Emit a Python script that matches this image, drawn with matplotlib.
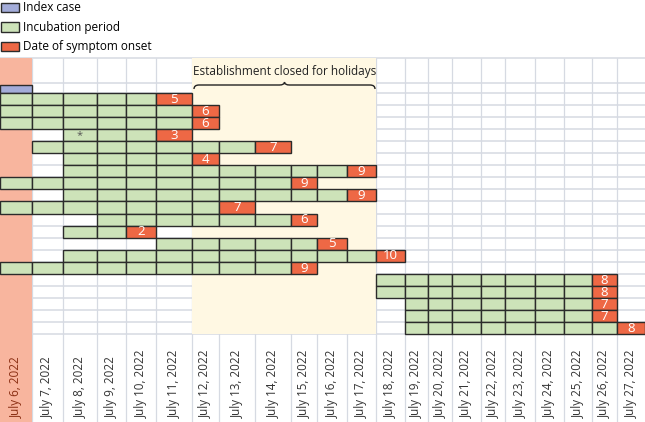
import matplotlib
matplotlib.use("Agg")
import numpy as np
import matplotlib.pyplot as plt
from matplotlib.patches import Patch, PathPatch
from matplotlib.path import Path

plt.rcParams['font.family'] = ['Open Sans', 'DejaVu Sans']

# --- data ---
days = [6, 7, 8, 9, 10, 11, 12, 13, 14, 15, 16, 17, 18, 19, 20, 21, 22, 23, 24, 25, 26, 27]
date_labels = ["July 6, 2022", "July 7, 2022", "July 8, 2022", "July 9, 2022",
               "July 10, 2022", "July 11, 2022", "July 12, 2022", "July 13, 2022",
               "July 14, 2022", "July 15, 2022", "July 16, 2022", "July 17, 2022",
               "July 18, 2022", "July 19, 2022", "July 20, 2022", "July 21, 2022",
               "July 22, 2022", "July 23, 2022", "July 24, 2022", "July 25, 2022",
               "July 26, 2022", "July 27, 2022"]
index_day = 6
start_day = [6, 6, 6, 8, 7, 8, 8, 6, 8, 6, 9, 8, 11, 8, 6, 18, 18, 19, 19, 19]
onset_day = [11, 12, 12, 11, 14, 12, 17, 15, 17, 13, 15, 10, 16, 18, 15, 26, 26, 26, 26, 27]
incubation = [5, 6, 6, 3, 7, 4, 9, 9, 9, 7, 6, 2, 5, 10, 9, 8, 8, 7, 7, 8]
asterisk_case, asterisk_day = 3, 8
closed_first, closed_last = 12, 17

# --- layout (pixel-like units) ---
col_w = [32, 31, 34, 29, 30, 36, 27, 36, 36, 26, 30, 29, 29, 23, 24, 29, 24, 30, 29, 28, 25, 28]
edges = np.concatenate([[0], np.cumsum(col_w)])
W, H = 645, 422
grid_top, index_top, cases_top = 58, 83, 93
row_h = 12.05
grid_bottom = cases_top + row_h * len(start_day)

C_BLUE = "#a3acd9"
C_GREEN = "#cde3b9"
C_RED = "#ee6845"
C_PINK = "#f8b59e"
C_YELLOW = "#fff8e3"
C_GRID = "#d6dae2"
C_EDGE = "#2b2b2b"

fig = plt.figure(figsize=(6.45, 4.22), dpi=100)
ax = fig.add_axes([0, 0, 1, 1])
ax.set_xlim(0, W)
ax.set_ylim(H, 0)
ax.axis("off")

def col(d):
    return days.index(d)

# grid
hl = [grid_top, index_top] + [cases_top + i * row_h for i in range(len(start_day) + 1)]
ax.hlines(hl, 0, W, color=C_GRID, lw=1.1, zorder=0)
ax.vlines(edges[1:-1], grid_top, H, color=C_GRID, lw=0.9, zorder=0)

# background bands
c0 = col(index_day)
ax.bar(edges[c0], H - grid_top, width=col_w[c0], bottom=grid_top, align="edge",
       color=C_PINK, lw=0, zorder=1)
a, b = col(closed_first), col(closed_last)
ax.bar(edges[a], grid_bottom - grid_top, width=edges[b + 1] - edges[a], bottom=grid_top,
       align="edge", color=C_YELLOW, lw=0, zorder=1)

# index case
ax.bar(edges[c0], cases_top - index_top - 1.5, width=col_w[c0], bottom=index_top + 1.5,
       align="edge", color=C_BLUE, edgecolor=C_EDGE, lw=1.0, zorder=3)

# cases
for i, (s, o, n) in enumerate(zip(start_day, onset_day, incubation)):
    top = cases_top + i * row_h
    for d in range(s, o + 1):
        c = col(d)
        ax.bar(edges[c], row_h, width=col_w[c], bottom=top, align="edge",
               color=C_RED if d == o else C_GREEN, edgecolor=C_EDGE, lw=1.0, zorder=3)
    c = col(o)
    ax.text(edges[c] + col_w[c] / 2, top + row_h / 2 + 0.3, str(n), color="white",
            ha="center", va="center", fontsize=9.5, zorder=4)

c = col(asterisk_day)
ax.text(edges[c] + col_w[c] / 2, cases_top + asterisk_case * row_h + 6.5, "*",
        color="#555555", ha="center", va="center", fontsize=8, zorder=4)

# date labels
for i, lab in enumerate(date_labels):
    ax.text(edges[i] + col_w[i] / 2, 418, lab, rotation=90, ha="center", va="bottom",
            fontsize=8.4, color="#8a2e12" if days[i] == index_day else "#333333", zorder=4)

# closure annotation with brace
x0, x1 = edges[a] + 2, edges[b + 1] - 1
xm = (x0 + x1) / 2
ax.text(xm, 71, "Establishment closed for holidays", ha="center", va="center",
        fontsize=8.5, color="#222222", zorder=4)
yb, yl, yt = 89, 85, 82
verts = [(x0, yb), (x0, yl), (x0 + 5, yl), (xm - 5, yl), (xm, yl), (xm, yt),
         (xm, yl), (xm + 5, yl), (x1 - 5, yl), (x1, yl), (x1, yb)]
codes = [Path.MOVETO, Path.CURVE3, Path.CURVE3, Path.LINETO, Path.CURVE3, Path.CURVE3,
         Path.CURVE3, Path.CURVE3, Path.LINETO, Path.CURVE3, Path.CURVE3]
ax.add_patch(PathPatch(Path(verts, codes), fill=False, edgecolor="#222222", lw=1.0, zorder=4))

handles = [Patch(facecolor=C_BLUE, edgecolor=C_EDGE, label="Index case"),
           Patch(facecolor=C_GREEN, edgecolor=C_EDGE, label="Incubation period"),
           Patch(facecolor=C_RED, edgecolor=C_EDGE, label="Date of symptom onset")]
fig.legend(handles=handles, loc="upper left", bbox_to_anchor=(0.0, 0.998), frameon=False,
           fontsize=8.5, handlelength=1.55, handleheight=0.85, handletextpad=0.35,
           labelspacing=0.55, borderaxespad=0, borderpad=0.05)

fig.savefig("out.png", dpi=100)
plt.close(fig)
